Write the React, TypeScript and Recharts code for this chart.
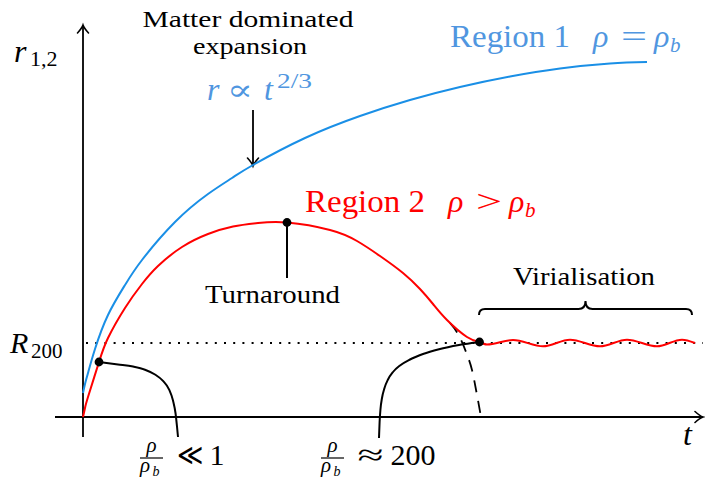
import React from "react";
import { ComposedChart, Line, ReferenceDot, ReferenceLine, XAxis, YAxis } from "recharts";

// t runs along the horizontal axis, r up the vertical one (same arbitrary units for both)
const expansionCurve = [
  { t: 0, r: 24 }, { t: 2, r: 33 }, { t: 5, r: 44 }, { t: 12, r: 68 }, { t: 25, r: 102 },
  { t: 42, r: 132 }, { t: 59, r: 157 }, { t: 92, r: 195 }, { t: 125, r: 223 }, { t: 149, r: 239 },
  { t: 170, r: 252 }, { t: 222, r: 279 }, { t: 277, r: 301 }, { t: 327, r: 317 }, { t: 377, r: 330 },
  { t: 427, r: 340.5 }, { t: 477, r: 348.5 }, { t: 527, r: 353.5 }, { t: 564, r: 355 },
];

const overdenseCurve = [
  { t: 0, r: 0 }, { t: 2, r: 9 }, { t: 5, r: 20 }, { t: 16, r: 55 }, { t: 25, r: 79 },
  { t: 42, r: 109 }, { t: 59, r: 133 }, { t: 75, r: 151 }, { t: 99, r: 170 }, { t: 125, r: 183 },
  { t: 150, r: 190.5 }, { t: 175, r: 194 }, { t: 204, r: 194.5 }, { t: 247, r: 187 }, { t: 274, r: 176 },
  { t: 297, r: 161 }, { t: 320, r: 144 }, { t: 337, r: 128 }, { t: 350, r: 113 }, { t: 364, r: 97 },
  { t: 384, r: 80 }, { t: 396.5, r: 75 },
];

const virialWave = [
  { t: 396.5, r: 75 }, { t: 404, r: 72.5 }, { t: 430, r: 77 }, { t: 460, r: 70.7 }, { t: 487, r: 77.3 },
  { t: 517, r: 70.7 }, { t: 544, r: 77.3 }, { t: 574, r: 70.7 }, { t: 599, r: 77.3 }, { t: 612, r: 74 },
];

const freeCollapse = [
  { t: 367, r: 94 }, { t: 375, r: 83 }, { t: 383, r: 65 }, { t: 389, r: 47 }, { t: 394, r: 22 }, { t: 398, r: 0 },
];

const lowDensityProfile = [
  { t: 16, r: 55 }, { t: 35, r: 52.5 }, { t: 50, r: 50.4 }, { t: 62, r: 47.3 }, { t: 72, r: 42.5 },
  { t: 80, r: 36.1 }, { t: 86, r: 27.7 }, { t: 90, r: 16.5 }, { t: 92.5, r: 4 }, { t: 94, r: -9.5 },
  { t: 95, r: -20 },
];

const highDensityProfile = [
  { t: 296, r: -21 }, { t: 296.6, r: -5 }, { t: 297.5, r: 8 }, { t: 299, r: 19 }, { t: 301.5, r: 29 },
  { t: 305, r: 37.5 }, { t: 310, r: 45 }, { t: 317, r: 51.5 }, { t: 327, r: 57.5 }, { t: 340, r: 63 },
  { t: 356, r: 67.8 }, { t: 376, r: 72 }, { t: 396.5, r: 75 },
];

const R200 = 74;
const markedPoints = [
  { t: 16, r: 55 },
  { t: 204, r: 194.5 },
  { t: 396.5, r: 75 },
];

const FONT = "'Liberation Serif', 'Times New Roman', 'DejaVu Serif', serif";
const serif = { fontFamily: FONT };
const BLUE = "#1a8fe6";
const BLUE_TEXT = "#5096e0";
const RED = "#ff0000";

const arrowShape = (p: any) => {
  const { x1, y1, x2, y2 } = p;
  const len = Math.hypot(x2 - x1, y2 - y1) || 1;
  const ux = (x2 - x1) / len;
  const uy = (y2 - y1) / len;
  const nx = -uy;
  const ny = ux;
  const bx = x2 - 8 * ux;
  const by = y2 - 8 * uy;
  const head =
    `M${bx + 5.5 * nx},${by + 5.5 * ny} Q${x2 - 3 * ux + nx},${y2 - 3 * uy + ny} ${x2},${y2} ` +
    `Q${x2 - 3 * ux - nx},${y2 - 3 * uy - ny} ${bx - 5.5 * nx},${by - 5.5 * ny}`;
  return (
    <g>
      <line x1={x1} y1={y1} x2={x2 - ux} y2={y2 - uy} stroke="#000" strokeWidth={1.8} />
      <path d={head} fill="none" stroke="#000" strokeWidth={1.6} strokeLinecap="round" />
    </g>
  );
};

const braceShape = (p: any) => {
  const { x1, y1, x2 } = p;
  const mid = (x1 + x2) / 2;
  const y = y1;
  const d =
    `M${x1},${y + 6} Q${x1},${y} ${x1 + 6},${y} L${mid - 7},${y} Q${mid},${y} ${mid},${y - 8} ` +
    `Q${mid},${y} ${mid + 7},${y} L${x2 - 6},${y} Q${x2},${y} ${x2},${y + 6}`;
  return <path d={d} fill="none" stroke="#000" strokeWidth={2} />;
};

const at = (key: string, t: number, r: number, draw: (x: number, y: number) => React.ReactNode) => (
  <ReferenceDot key={key} x={t} y={r} r={0} ifOverflow="visible" shape={(p: any) => <g style={serif}>{draw(p.cx, p.cy)}</g>} />
);

const regionLabel = (x: number, y: number, name: string, rel: string, color: string) => (
  <g fill={color}>
    <text x={x} y={y} fontSize={32} textLength={120} lengthAdjust="spacingAndGlyphs">{name}</text>
    <text x={x + 143} y={y} fontSize={32} fontStyle="italic">ρ</text>
    <text x={x + 171} y={y} fontSize={32} textLength={26} lengthAdjust="spacingAndGlyphs">{rel}</text>
    <text x={x + 204} y={y} fontSize={32} fontStyle="italic">ρ</text>
    <text x={x + 220} y={y + 5} fontSize={21} fontStyle="italic">b</text>
  </g>
);

const fraction = (x: number, y: number, rel: string, rhs: string) => (
  <g fill="#000">
    <text x={x} y={y - 6} fontSize={21} fontStyle="italic" textAnchor="middle">ρ</text>
    <line x1={x - 11.5} y1={y} x2={x + 11.5} y2={y} stroke="#000" strokeWidth={1.2} />
    <text x={x - 11.5} y={y + 14} fontSize={21} fontStyle="italic">ρ</text>
    <text x={x + 1} y={y + 18} fontSize={14} fontStyle="italic">b</text>
    <text x={x + 25} y={y + 7} fontSize={30} textLength={26} lengthAdjust="spacingAndGlyphs">{rel}</text>
    <text x={x + 58} y={y + 7} fontSize={30}>{rhs}</text>
  </g>
);

const labels = [
  at("matter", 165, 390, (x, y) => (
    <text x={x} y={y} fontSize={23} textAnchor="middle" textLength={211} lengthAdjust="spacingAndGlyphs">
      Matter dominated
    </text>
  )),
  at("expansion", 167, 363.5, (x, y) => (
    <text x={x} y={y} fontSize={23} textAnchor="middle" textLength={114} lengthAdjust="spacingAndGlyphs">
      expansion
    </text>
  )),
  at("law", 124, 317, (x, y) => (
    <g fill={BLUE_TEXT}>
      <text x={x} y={y} fontSize={32} fontStyle="italic">r</text>
      <text x={x + 20} y={y} fontSize={30} textLength={26} lengthAdjust="spacingAndGlyphs">∝</text>
      <text x={x + 57} y={y} fontSize={32} fontStyle="italic">t</text>
      <text x={x + 70} y={y - 12} fontSize={21} textLength={35} lengthAdjust="spacingAndGlyphs">2/3</text>
    </g>
  )),
  at("region1", 367, 370, (x, y) => regionLabel(x, y, "Region 1", "=", BLUE_TEXT)),
  at("region2", 222, 205, (x, y) => regionLabel(x, y, "Region 2", ">", RED)),
  at("turn", 189.5, 114, (x, y) => (
    <text x={x} y={y} fontSize={25} textAnchor="middle" textLength={135} lengthAdjust="spacingAndGlyphs">
      Turnaround
    </text>
  )),
  at("virial", 501, 132, (x, y) => (
    <text x={x} y={y} fontSize={25} textAnchor="middle" textLength={142} lengthAdjust="spacingAndGlyphs">
      Virialisation
    </text>
  )),
  at("ylabel", -69, 355, (x, y) => (
    <g>
      <text x={x} y={y} fontSize={32} fontStyle="italic">r</text>
      <text x={x + 16} y={y + 4} fontSize={22}>1,2</text>
    </g>
  )),
  at("r200", -73, R200 - 10, (x, y) => (
    <g>
      <text x={x} y={y} fontSize={30} fontStyle="italic">R</text>
      <text x={x + 21} y={y + 5} fontSize={21}>200</text>
    </g>
  )),
  at("xlabel", 600, -28, (x, y) => (
    <text x={x} y={y} fontSize={32} fontStyle="italic">t</text>
  )),
  at("fracLow", 68.5, -41, (x, y) => fraction(x, y, "≪", "1")),
  at("fracHigh", 249.5, -41, (x, y) => fraction(x, y, "≈", "200")),
];

const curve = { dataKey: "r", dot: false, activeDot: false, isAnimationActive: false };

export default function App() {
  return (
    <div style={{ position: "absolute", left: 0, top: 0, background: "#fff" }}>
      <ComposedChart width={705} height={483} margin={{ top: 0, right: 0, bottom: 0, left: 0 }}>
        <XAxis type="number" dataKey="t" domain={[-83, 622]} hide allowDataOverflow />
        <YAxis type="number" dataKey="r" domain={[-66, 417]} hide allowDataOverflow />

        <ReferenceLine segment={[{ x: 3, y: R200 }, { x: 620, y: R200 }]} stroke="#000" strokeWidth={2} strokeDasharray="2 7.2" ifOverflow="visible" />
        <ReferenceLine segment={[{ x: -28, y: 0 }, { x: 620, y: 0 }]} shape={arrowShape} ifOverflow="visible" />
        <ReferenceLine segment={[{ x: 0, y: -20 }, { x: 0, y: 392 }]} shape={arrowShape} ifOverflow="visible" />
        <ReferenceLine segment={[{ x: 170, y: 307 }, { x: 170, y: 251 }]} shape={arrowShape} ifOverflow="visible" />
        <ReferenceLine segment={[{ x: 204, y: 194.5 }, { x: 204, y: 139 }]} stroke="#000" strokeWidth={2} ifOverflow="visible" />
        <ReferenceLine segment={[{ x: 396, y: 108 }, { x: 609, y: 108 }]} shape={braceShape} ifOverflow="visible" />

        <Line {...curve} type="natural" data={expansionCurve} stroke={BLUE} strokeWidth={2} />
        <Line {...curve} type="monotone" data={lowDensityProfile} stroke="#000" strokeWidth={2} />
        <Line {...curve} type="monotone" data={highDensityProfile} stroke="#000" strokeWidth={2} />
        <Line {...curve} type="monotone" data={freeCollapse} stroke="#000" strokeWidth={1.8} strokeDasharray="12 9" />
        <Line {...curve} type="natural" data={overdenseCurve} stroke={RED} strokeWidth={2} />
        <Line {...curve} type="monotone" data={virialWave} stroke={RED} strokeWidth={2} />

        {markedPoints.map((p, i) => (
          <ReferenceDot key={`pt${i}`} x={p.t} y={p.r} r={4.4} fill="#000" stroke="none" ifOverflow="visible" />
        ))}
        {labels}
      </ComposedChart>
    </div>
  );
}
